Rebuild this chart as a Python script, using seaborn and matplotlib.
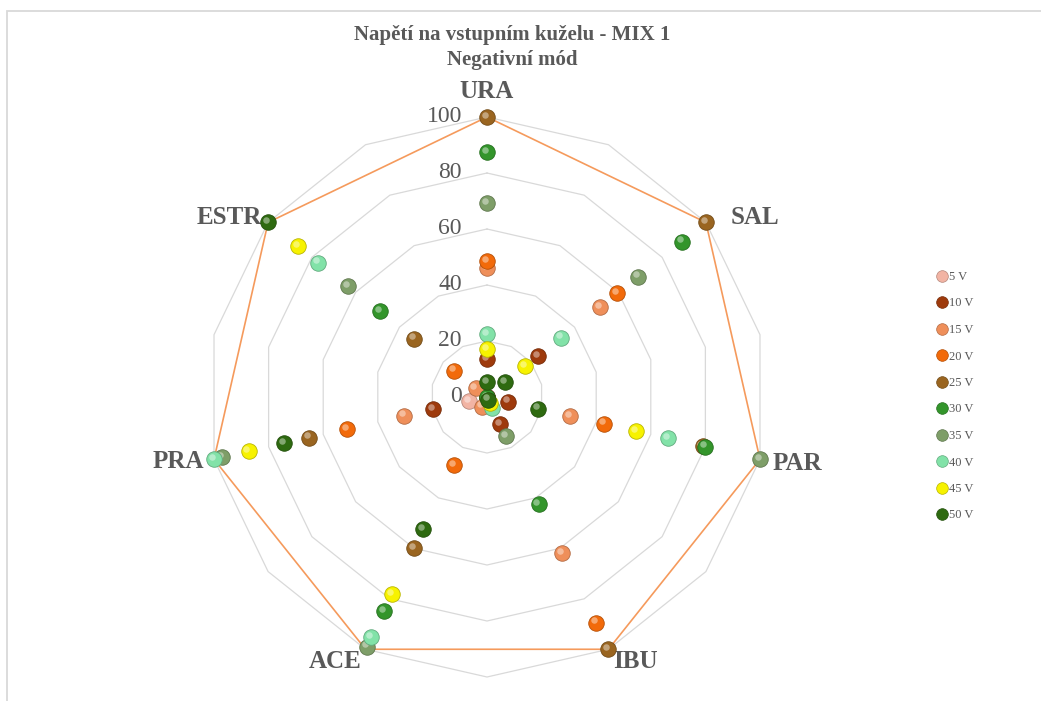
import numpy as np
import pandas as pd
import matplotlib
matplotlib.use("Agg")
import matplotlib.pyplot as plt
import matplotlib.transforms as mtransforms
from matplotlib.lines import Line2D
from matplotlib.patches import Rectangle
from matplotlib.colors import to_rgb
import seaborn as sns

# ---------------- data ----------------
categories = ["URA", "SAL", "PAR", "IBU", "ACE", "PRA", "ESTR"]
series_names = ["5 V", "10 V", "15 V", "20 V", "25 V", "30 V", "35 V", "40 V", "45 V", "50 V"]

v_5 = [0, 0, 0, 0, 0, 6.7, 0]
v_10 = [13.5, 23.5, 7.6, 10.8, 0, 19.8, 0]
v_15 = [46, 51.5, 30.5, 62, 3.8, 30.3, 5.2]
v_20 = [48.5, 59.5, 43, 89.5, 27, 51.2, 15]
v_25 = [100, 100, 79, 100, 60, 65.3, 33.3]
v_30 = [87.5, 89, 80, 42.5, 85, 0, 49]
v_35 = [69.3, 69, 100, 15.5, 99, 97, 63.6]
v_40 = [22.5, 34, 66.3, 4.5, 95.3, 100, 77]
v_45 = [17, 17.5, 54.5, 2.4, 78.2, 87.3, 86.4]
v_50 = [5.3, 8.4, 18.6, 1, 52.3, 74.2, 100]
series_values = [v_5, v_10, v_15, v_20, v_25, v_30, v_35, v_40, v_45, v_50]

max_line = [100, 100, 100, 100, 100, 100, 100]
r_ticks = [0, 20, 40, 60, 80, 100]

title_1 = "Napětí na vstupním kuželu - MIX 1"
title_2 = "Negativní mód"

# ---------------- style ----------------
colors = ["#F2B4A4", "#9E3A0C", "#EF8F5A", "#F26A0A", "#9A6520",
          "#33952B", "#7E9E68", "#82E2A8", "#F7F200", "#2E6A10"]
text_col = "#595959"
grid_col = "#D9D9D9"

sns.set_theme(style="white")
plt.rcParams["font.family"] = ["Liberation Serif", "DejaVu Serif"]

W, H = 1041, 701
fig = plt.figure(figsize=(W / 100, H / 100), dpi=100)
fig.patch.set_facecolor("white")

cx, cy, R = 487, 397, 280
ax = fig.add_axes([(cx - R) / W, (H - cy - R) / H, 2 * R / W, 2 * R / H],
                  projection="polar")
ax.set_theta_offset(np.pi / 2)
ax.set_theta_direction(-1)
ax.patch.set_alpha(0)

n_slots = 2 * len(categories)
slot_theta = np.arange(n_slots) * 2 * np.pi / n_slots
cat_theta = slot_theta[::2]

# polygon gridlines (14-sided)
ring_theta = np.append(slot_theta, slot_theta[0])
for r in r_ticks[1:]:
    ax.plot(ring_theta, np.full_like(ring_theta, r, dtype=float),
            color=grid_col, lw=0.9, clip_on=False, zorder=1)

# outer orange line
ax.plot(np.append(cat_theta, cat_theta[0]), max_line + [max_line[0]],
        color="#F59A5C", lw=1.2, clip_on=False, zorder=2)

# long-form data
rows = []
for name, vals in zip(series_names, series_values):
    for cat, th, v in zip(categories, cat_theta, vals):
        rows.append({"series": name, "category": cat, "theta": th, "value": v})
df = pd.DataFrame(rows)


def blend(c, other, t):
    c = np.array(to_rgb(c)); o = np.array(to_rgb(other))
    return tuple(c * (1 - t) + o * t)


hl_offset = mtransforms.ScaledTranslation(-2.2 / 100, 2.4 / 100, fig.dpi_scale_trans)
for i, (name, col) in enumerate(zip(series_names, colors)):
    sub = df[df["series"] == name]
    sns.scatterplot(data=sub, x="theta", y="value", color=col, s=125,
                    edgecolor=blend(col, "black", 0.25), linewidth=0.6,
                    ax=ax, legend=False, clip_on=False, zorder=3 + i)
    ax.scatter(sub["theta"], sub["value"], s=22, color=blend(col, "white", 0.55),
               alpha=0.75, linewidths=0, clip_on=False, zorder=3 + i,
               transform=ax.transData + hl_offset)

ax.set_ylim(0, 100)
ax.set_xticks([])
ax.set_yticks([])
ax.set_xlabel("")
ax.set_ylabel("")
ax.grid(False)
ax.spines["polar"].set_visible(False)

# category labels
label_offsets = {
    "URA": (0, 26, "center"),
    "SAL": (25, 5, "left"),
    "PAR": (13, -4, "left"),
    "IBU": (5, -12, "left"),
    "ACE": (-4, -12, "right"),
    "PRA": (-10, -2, "right"),
    "ESTR": (-6, 5, "right"),
}
for cat, th, m in zip(categories, cat_theta, max_line):
    dx, dy, ha = label_offsets[cat]
    ax.annotate(cat, xy=(th, m), xytext=(dx, dy), textcoords="offset pixels",
                ha=ha, va="center", fontsize=18, fontweight="bold",
                color=text_col, annotation_clip=False)

# radial tick labels
for v in r_ticks:
    ax.annotate(str(v), xy=(0, v), xytext=(-25, 0), textcoords="offset pixels",
                ha="right", va="center", fontsize=17, color=text_col,
                annotation_clip=False)

# title
fig.text(512 / W, 1 - 35 / H, title_1, ha="center", va="center",
         fontsize=15, fontweight="bold", color=text_col)
fig.text(512 / W, 1 - 60 / H, title_2, ha="center", va="center",
         fontsize=15, fontweight="bold", color=text_col)

# legend
handles = [Line2D([0], [0], marker="o", linestyle="none", markersize=8.4,
                  markerfacecolor=c, markeredgecolor=blend(c, "black", 0.25),
                  markeredgewidth=0.5) for c in colors]
leg = fig.legend(handles, series_names, loc="upper left",
                 bbox_to_anchor=(936 / W, 1 - 271 / H), frameon=False,
                 fontsize=9, labelspacing=1.16, handlelength=0.95,
                 handletextpad=0.1, borderpad=0, borderaxespad=0)
for t in leg.get_texts():
    t.set_color(text_col)

# chart border
fig.patches.append(Rectangle((7 / W, -0.05), 1.2, 1 - 11 / H + 0.05,
                             transform=fig.transFigure, fill=False,
                             edgecolor=grid_col, lw=1.3))

fig.savefig("out.png", dpi=100)
